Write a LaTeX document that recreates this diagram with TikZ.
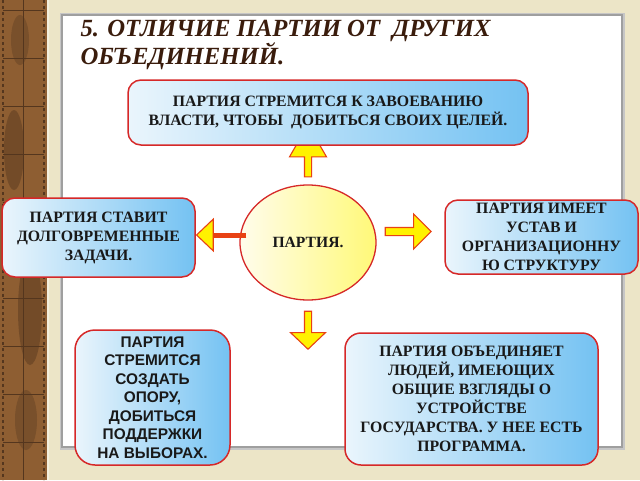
\documentclass[tikz,border=0pt]{standalone}
\usepackage{fontspec}
\setmainfont{Liberation Serif}
\newfontfamily\arialfont{Liberation Sans}
\usetikzlibrary{calc,shapes.geometric,shapes.arrows,arrows.meta}

\definecolor{boxred}{RGB}{214,40,40}
\definecolor{arrowred}{RGB}{232,66,20}
\definecolor{arrowyellow}{RGB}{255,242,0}
\definecolor{skylight}{RGB}{234,245,252}
\definecolor{skydark}{RGB}{116,194,242}
\definecolor{sunlight}{RGB}{255,252,236}
\definecolor{sundark}{RGB}{255,249,120}
\definecolor{parchment}{RGB}{236,229,199}
\definecolor{woodbrown}{RGB}{142,94,50}
\definecolor{wooddark}{RGB}{84,54,30}
\definecolor{titlebrown}{RGB}{58,28,12}

\tikzset{
  ideabox/.style={draw=boxred, line width=1.5pt, rounded corners=13pt,
    left color=skylight, right color=skydark, align=center, inner sep=0pt,
    font=\bfseries\fontsize{15.8}{19}\selectfont, text=black!90},
  partyblob/.style={ellipse, draw=boxred, line width=1.3pt,
    left color=sunlight, right color=sundark, inner sep=0pt,
    font=\bfseries\fontsize{15.6}{19}\selectfont, text=black!90},
  yarrow/.style={single arrow, draw=arrowred, fill=arrowyellow, line width=1.1pt,
    inner xsep=0pt, minimum width=0pt},
  redstem/.style={draw=arrowred, line width=5pt,
    -{Triangle[length=18pt, width=34pt, fill=arrowyellow, line width=1.1pt]}}
}

\begin{document}
\begin{tikzpicture}[x=1pt,y=-1pt]
  \useasboundingbox (0,0) rectangle (640,480);

  % background, wood strip and white panel
  \fill[parchment] (0,0) rectangle (640,480);
  \fill[woodbrown] (0,0) rectangle (47,480);
  \fill[wooddark, opacity=0.45] (14,150) ellipse (10 and 40);
  \fill[wooddark, opacity=0.45] (30,310) ellipse (12 and 55);
  \fill[wooddark, opacity=0.35] (20,40) ellipse (9 and 25);
  \fill[wooddark, opacity=0.35] (26,420) ellipse (11 and 30);
  \foreach \y in {10,58,...,480}
    \draw[wooddark, line width=0.6pt] (3,\y) -- (44,\y);
  \draw[wooddark, line width=0.6pt] (23,0) -- (23,480);
  \draw[wooddark, dashed, line width=1.2pt] (3,0) -- (3,480);
  \draw[wooddark, dashed, line width=1.2pt] (44,0) -- (44,480);
  \draw[parchment!60!white, line width=2pt] (48,0) -- (48,480);
  \draw[gray!45, line width=5pt] (62,15) rectangle (622,447);
  \draw[gray!75, line width=2pt, fill=white] (62,15) rectangle (622,447);

  \node[anchor=north west, align=left, text=titlebrown,
    font=\bfseries\itshape\fontsize{24.7}{27.5}\selectfont] (title) at (77,17)
    {5. ОТЛИЧИЕ ПАРТИИ ОТ \ ДРУГИХ\\ОБЪЕДИНЕНИЙ.};

  \node[partyblob, minimum width=136pt, minimum height=115pt] (party) at (308,242.5) {ПАРТИЯ.};

  \node[ideabox, minimum width=193pt, minimum height=79pt] (longterm) at (98.5,237.5)
    {ПАРТИЯ СТАВИТ\\ДОЛГОВРЕМЕННЫЕ\\ЗАДАЧИ.};
  \node[ideabox, minimum width=193pt, minimum height=74pt] (charter) at (541.5,237)
    {ПАРТИЯ ИМЕЕТ\\УСТАВ И\\ОРГАНИЗАЦИОННУ\\Ю СТРУКТУРУ};
  \node[ideabox, rounded corners=20pt, minimum width=155pt, minimum height=135pt,
    font=\arialfont\bfseries\fontsize{15.4}{18.5}\selectfont] (support) at (152.5,397.5)
    {ПАРТИЯ\\СТРЕМИТСЯ\\СОЗДАТЬ\\ОПОРУ,\\ДОБИТЬСЯ\\ПОДДЕРЖКИ\\НА ВЫБОРАХ.};
  \node[ideabox, rounded corners=16pt, minimum width=253pt, minimum height=132pt] (unite) at (471.5,399)
    {ПАРТИЯ ОБЪЕДИНЯЕТ\\ЛЮДЕЙ, ИМЕЮЩИХ\\ОБЩИЕ ВЗГЛЯДЫ О\\УСТРОЙСТВЕ\\ГОСУДАРСТВА. У НЕЕ ЕСТЬ\\ПРОГРАММА.};

  \node[yarrow, rotate=90, anchor=tail, minimum height=52pt, inner ysep=3pt,
    single arrow tip angle=60, single arrow head extend=15pt] (upArrow)
    at ($(party.north)+(0,-7)$) {};
  \node[yarrow, rotate=-90, anchor=tail, minimum height=38pt, inner ysep=3pt,
    single arrow tip angle=93, single arrow head extend=14pt] (downArrow)
    at ($(party.south)+(0,10)$) {};
  \node[yarrow, anchor=tail, minimum height=46pt, inner ysep=3.5pt,
    single arrow tip angle=90, single arrow head extend=13.5pt] (rightArrow)
    at ($(party.east)+(8,-11)$) {};
  \draw[redstem] ($(party.west)+(7,-7.5)$) coordinate (leftStem) -- (leftStem -| longterm.east);

  \node[ideabox, minimum width=400pt, minimum height=65pt] (goal) at (328,112.5)
    {ПАРТИЯ СТРЕМИТСЯ К ЗАВОЕВАНИЮ\\ВЛАСТИ, ЧТОБЫ \ ДОБИТЬСЯ СВОИХ ЦЕЛЕЙ.};
\end{tikzpicture}
\end{document}
